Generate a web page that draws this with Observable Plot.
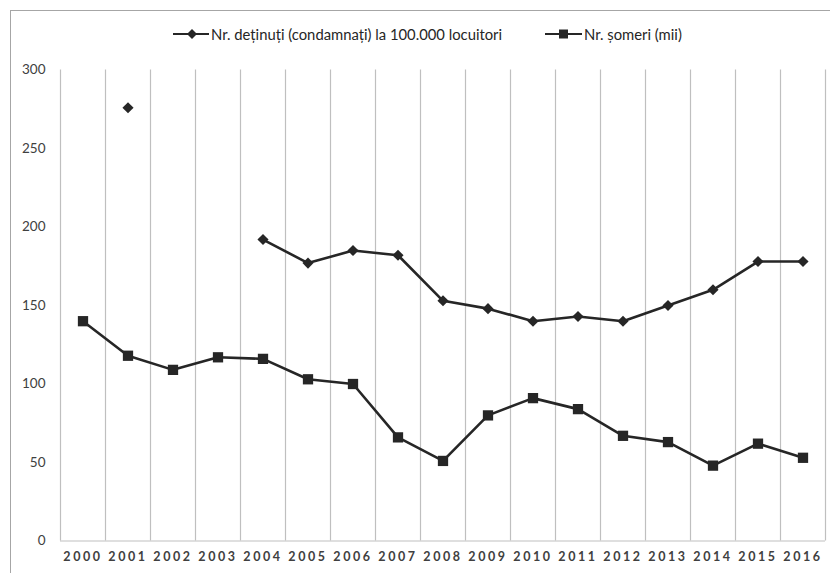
<!DOCTYPE html>
<html>
<head>
<meta charset="utf-8">
<script src="https://cdn.jsdelivr.net/npm/d3@7"></script>
<script src="https://cdn.jsdelivr.net/npm/@observablehq/plot@0.6"></script>
<style>
  html, body { margin: 0; padding: 0; background: #fff; overflow: hidden; }
  #wrap { position: relative; width: 830px; height: 573px; font-family: Lato, "Open Sans", sans-serif; }
  #frame { position: absolute; left: 10px; top: 10px; width: 840px; height: 600px;
           border: 1px solid #a6a6a6; box-sizing: border-box; pointer-events: none; }
  #legend { position: relative; height: 50px; }
  .item { position: absolute; top: 25px; display: flex; align-items: center;
          font-size: 14.8px; color: #262626; white-space: nowrap; }
  .item svg { margin-right: 2px; }
  #chart svg g[aria-label="x-axis tick label"] text { letter-spacing: 2.6px; }
</style>
</head>
<body>
<div id="wrap">
  <div id="frame"></div>
  <div id="legend">
    <div class="item" style="left:173px">
      <svg width="36" height="12" viewBox="0 0 36 12"><line x1="0" y1="6" x2="36" y2="6" stroke="#262626" stroke-width="2.2"/><path d="M19,1 L24,6 L19,11 L14,6Z" fill="#262626"/></svg>
      <span>Nr. deținuți (condamnați) la 100.000 locuitori</span>
    </div>
    <div class="item" style="left:545px">
      <svg width="37" height="12" viewBox="0 0 37 12"><line x1="0" y1="6" x2="37" y2="6" stroke="#262626" stroke-width="2.2"/><rect x="14" y="1.5" width="9" height="9" fill="#262626"/></svg>
      <span>Nr. șomeri (mii)</span>
    </div>
  </div>
  <div id="chart"></div>
</div>
<script>
// Years on the category axis
const years = [2000, 2001, 2002, 2003, 2004, 2005, 2006, 2007, 2008,
               2009, 2010, 2011, 2012, 2013, 2014, 2015, 2016];

// Prisoners (convicted) per 100,000 inhabitants; null where no figure is available
const detinuti = [null, 276, null, null, 192, 177, 185, 182, 153,
                  148, 140, 143, 140, 150, 160, 178, 178];

// Unemployed persons (thousands)
const someri = [140, 118, 109, 117, 116, 103, 100, 66, 51,
                80, 91, 84, 67, 63, 48, 62, 53];

const yTicks = [0, 50, 100, 150, 200, 250, 300];

const rowsDet = years.map((year, i) => ({year, value: detinuti[i]}));
const rowsSom = years.map((year, i) => ({year, value: someri[i]}));
// Category boundaries for the vertical grid
const bounds = [...years.map(y => y - 0.5), years[years.length - 1] + 0.5];

const ink = "#262626";

const chart = Plot.plot({
  width: 830,
  height: 523,
  marginLeft: 60,
  marginRight: 5,
  marginTop: 19.5,
  marginBottom: 32.5,
  style: {fontFamily: "Lato, 'Open Sans', sans-serif", background: "#fff", color: "#404040"},
  x: {domain: [1999.5, 2016.5]},
  y: {domain: [0, 300]},
  marks: [
    Plot.ruleX(bounds, {y1: 0, y2: 300, stroke: "#bfbfbf", strokeWidth: 1.2}),
    Plot.ruleY([0], {stroke: "#bfbfbf", strokeWidth: 1.2}),
    Plot.axisY(yTicks, {tickSize: 0, tickPadding: 15, fontSize: 13.5, fill: "#404040", label: null}),
    Plot.axisX(years, {tickSize: 0, tickPadding: 11, fontSize: 12.5, fontWeight: "bold",
                       fill: "#404040", tickFormat: d => String(d), label: null}),
    Plot.line(rowsSom, {x: "year", y: "value", stroke: ink, strokeWidth: 2.6}),
    Plot.dot(rowsSom, {x: "year", y: "value", symbol: "square", r: 5.8, fill: ink, stroke: null}),
    Plot.line(rowsDet, {x: "year", y: "value", stroke: ink, strokeWidth: 2.6}),
    Plot.dot(rowsDet, {x: "year", y: "value", symbol: d3.symbolDiamond2, r: 5, fill: ink, stroke: null})
  ]
});

document.getElementById("chart").append(chart);
</script>
</body>
</html>
